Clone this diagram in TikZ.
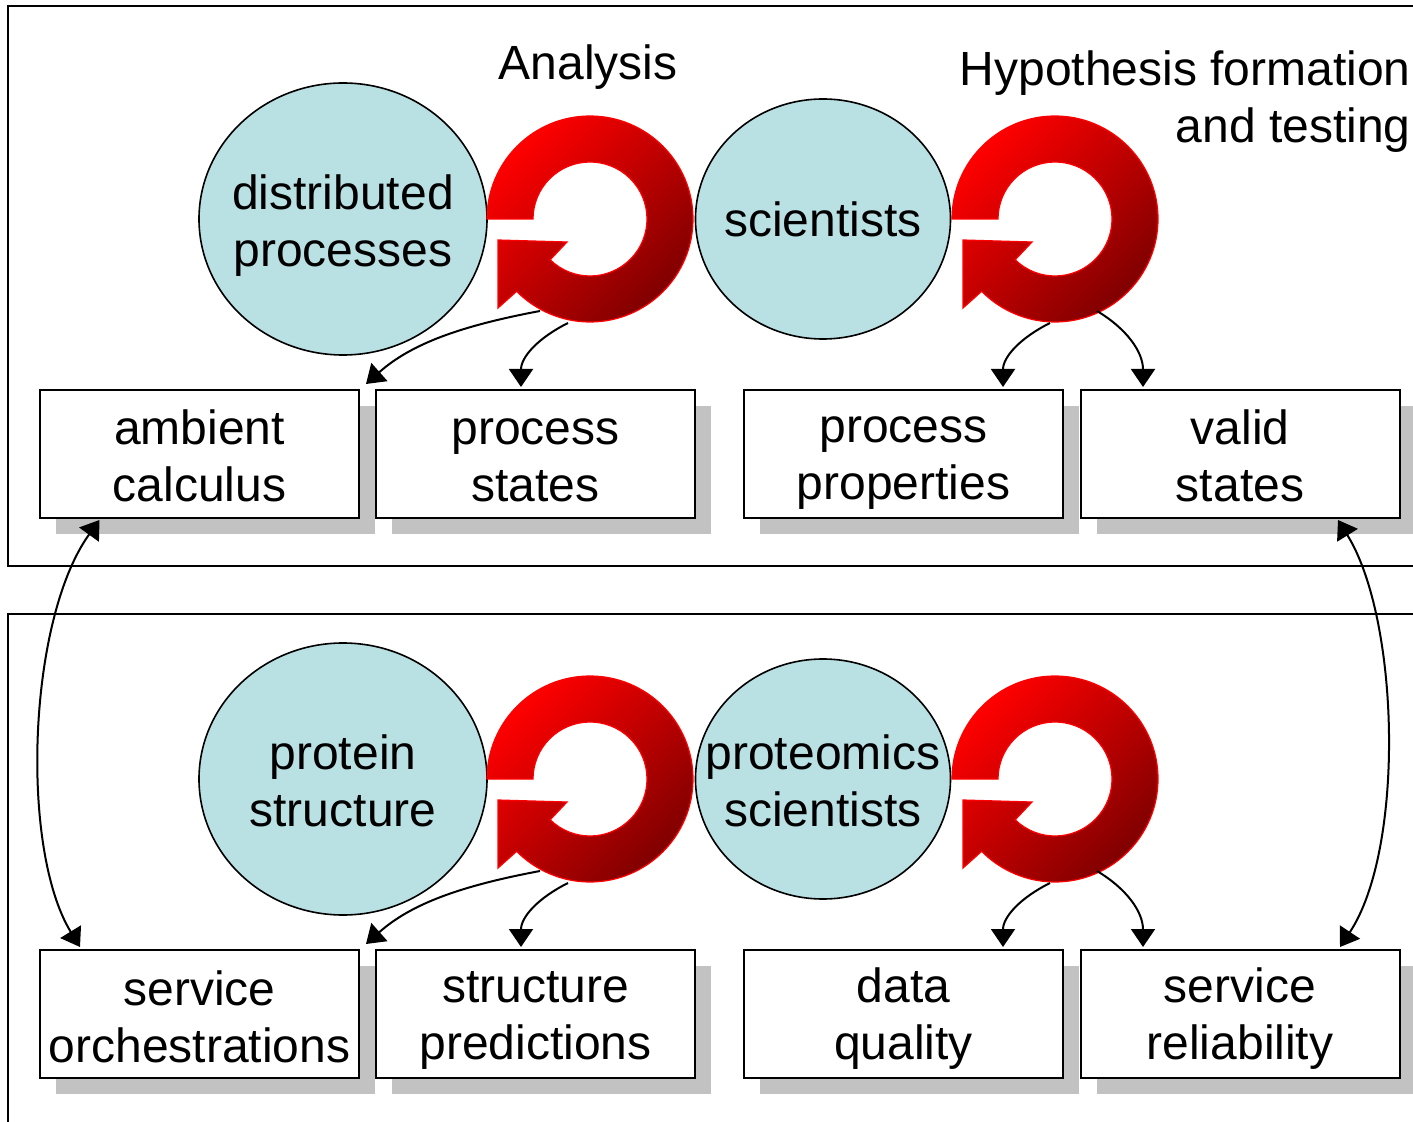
\documentclass[tikz,border=0pt]{standalone}
\usepackage{fontspec}
\setmainfont{Liberation Sans}
\usetikzlibrary{shapes.geometric,arrows.meta,shadows,calc}
\definecolor{cblue}{RGB}{185,224,227}
\definecolor{dkred}{RGB}{128,0,0}
\newcommand\ls{\vrule height 20pt depth 4pt width 0pt}
\newcommand\bls{\vrule height 21.5pt depth 2pt width 0pt}
\newcommand\cycarrow[1]{%
  \path[cyc, shift={#1}] (180:103) arc[start angle=180, end angle=495.4, radius=103]
    -- (-92,89) -- (-92,21) -- (-23,23) -- (134.3:57)
    arc[start angle=134.3, end angle=-180, radius=57] -- cycle;}
\begin{document}
\begin{tikzpicture}[x=0.5pt,y=-0.5pt,
  panel/.style={draw=black, line width=0.8pt},
  ell/.style={ellipse, draw=black, line width=0.8pt, fill=cblue, inner sep=0pt},
  lbl/.style={font=\fontsize{24}{28.5}\selectfont, align=center, inner sep=0pt},
  box/.style={rectangle, draw=black, line width=1pt, fill=white, minimum width=159.5pt,
    minimum height=64pt, inner sep=0pt, align=center, font=\fontsize{24}{28.5}\selectfont,
    drop shadow={shadow xshift=8pt,shadow yshift=-8pt,fill=black!24,opacity=1}},
  cyc/.style={draw=red, line width=0.6pt, top color=red, bottom color=dkred, shading angle=45},
  conn/.style={line width=1pt, -{Triangle[length=9pt,width=12pt]}},
  dconn/.style={line width=1pt, {Triangle[length=9pt,width=12pt]}-{Triangle[length=9pt,width=12pt]}}
]
\useasboundingbox (0,0) rectangle (1413,1122);
% panels
\draw[panel] (8,6) rectangle (1430,566);
\draw[panel] (8,614) rectangle (1430,1140);

% titles
\node[lbl, anchor=base] (ana) at (588,80) {Analysis};
\node[lbl, anchor=north east, align=right] (hyp) at (1411,45) {\ls Hypothesis formation\\\ls and testing};

% ellipses
\node[ell, minimum width=144pt, minimum height=136pt] (e1) at (343,219) {};
\node[lbl] (e1t) at (343,223) {\ls distributed\\\ls processes};
\node[ell, minimum width=127.5pt, minimum height=120pt] (e2) at (823,219) {};
\node[lbl] (e2t) at (823,221) {\ls scientists};
\node[ell, minimum width=144pt, minimum height=136pt] (e3) at (343,779) {};
\node[lbl] (e3t) at (343,782) {\ls protein\\\ls structure};
\node[ell, minimum width=127.5pt, minimum height=120pt] (e4) at (823,779) {};
\node[lbl] (e4t) at (823,782) {\ls proteomics\\\ls scientists};

% circular arrows
\cycarrow{(590,219)}
\cycarrow{(1055,219)}
\cycarrow{(590,779)}
\cycarrow{(1055,779)}

% boxes
\node[box] (b1) at (199.5,454) {\bls ambient\\\bls calculus};
\node[box] (b2) at (535.5,454) {\bls process\\\bls states};
\node[box] (b3) at (903.5,454) {\bls process\\\bls properties};
\node[box] (b4) at (1240,454) {\bls valid\\\bls states};
\node[box] (c1) at (199.5,1014) {\bls service\\\bls orchestrations};
\node[box] (c2) at (535.5,1014) {\bls structure\\\bls predictions};
\node[box] (c3) at (903.5,1014) {\bls data\\\bls quality};
\node[box] (c4) at (1240,1014) {\bls service\\\bls reliability};

% connector start points on the circular arrows
\coordinate (s1) at (540,311);
\coordinate (s2) at (568,323);
\coordinate (s3) at (1050,323);
\coordinate (s4) at (1097,311);
\coordinate (r1) at (540,871);
\coordinate (r2) at (568,883);
\coordinate (r3) at (1050,883);
\coordinate (r4) at (1097,871);
% connector end points on boxes
\coordinate (t1) at ($(b1.north east)+(6,-5)$);
\coordinate (t2) at ($(b2.north)+(-14.5,-2)$);
\coordinate (t3) at ($(b3.north)+(99.5,-2)$);
\coordinate (t4) at ($(b4.north)+(-97,-2)$);
\coordinate (w1) at ($(c1.north east)+(6,-5)$);
\coordinate (w2) at ($(c2.north)+(-14.5,-2)$);
\coordinate (w3) at ($(c3.north)+(99.5,-2)$);
\coordinate (w4) at ($(c4.north)+(-97,-2)$);
\coordinate (u1) at ($(b1.south)+(-100,1)$);
\coordinate (v1) at ($(c1.north)+(-119.5,-2)$);
\coordinate (u4) at ($(b4.south)+(98,1)$);
\coordinate (v4) at ($(c4.north)+(100,-2)$);

% connectors
\draw[conn] (s1) .. controls +(-80,15) and +(45,-40) .. (t1);
\draw[conn] (s2) .. controls +(-30,15) and +(0,-30) .. (t2);
\draw[conn] (s3) .. controls +(-30,15) and +(0,-30) .. (t3);
\draw[conn] (s4) .. controls +(30,18) and +(0,-35) .. (t4);
\draw[conn] (r1) .. controls +(-80,15) and +(45,-40) .. (w1);
\draw[conn] (r2) .. controls +(-30,15) and +(0,-30) .. (w2);
\draw[conn] (r3) .. controls +(-30,15) and +(0,-30) .. (w3);
\draw[conn] (r4) .. controls +(30,18) and +(0,-35) .. (w4);
\draw[dconn] (u1) .. controls +(-72,100) and +(-60,-98) .. (v1);
\draw[dconn] (u4) .. controls +(62,100) and +(65,-98) .. (v4);
\end{tikzpicture}
\end{document}
